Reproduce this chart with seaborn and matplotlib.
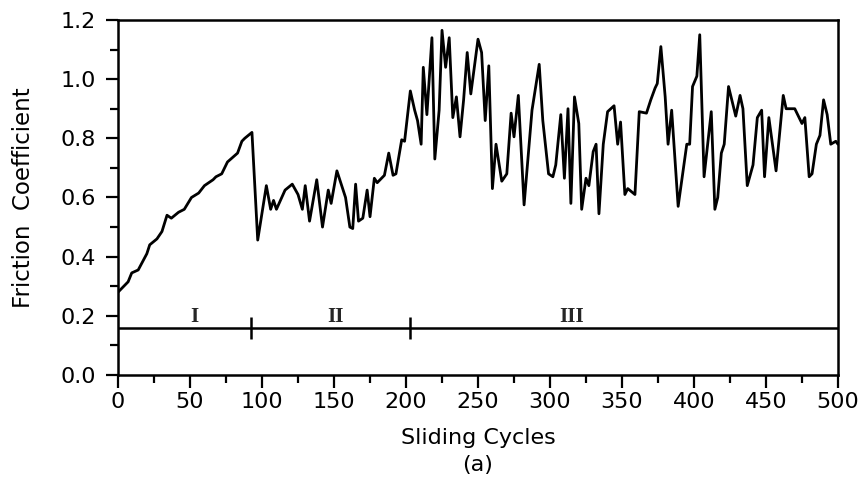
import matplotlib
matplotlib.use("Agg")
import matplotlib.pyplot as plt
import seaborn as sns
import pandas as pd
from matplotlib.ticker import MultipleLocator

cycles = [0, 7, 9.5, 14, 20, 22, 27, 30.5, 34, 37, 42, 46, 51, 56, 60, 66, 68, 72, 76, 83, 86, 88, 93,
          97, 103, 106, 108, 110, 116, 121, 125, 128, 130, 133, 138, 142, 146, 148, 152, 158, 161, 163,
          165, 167, 170, 173, 175, 178, 180, 185, 188, 191, 193, 197, 199, 203, 206, 208, 210.5, 212,
          214.5, 218, 220, 223, 225, 227.5, 230, 232.5, 235, 237.5, 240, 242.5, 245, 250, 252.5, 255,
          257.5, 260, 262.5, 266.5, 270, 273, 275, 278, 282, 287.5, 292.5, 295, 299, 302, 304, 307.5,
          310, 312.5, 314.5, 317, 320, 322, 325, 327, 330, 332, 334, 337, 340, 344.5, 347, 349, 352,
          354, 359, 362, 367, 370, 373, 374.5, 377, 380, 382, 384.5, 389, 395, 397, 399, 402, 404, 407,
          412, 414.5, 416.5, 419, 421, 424, 429, 432, 434, 437, 441, 444, 447, 449, 452, 457, 462, 464,
          470, 475, 477, 480, 482, 485, 487.5, 490, 492.5, 495, 498.5, 500]
friction = [0.28, 0.315, 0.345, 0.355, 0.41, 0.44, 0.46, 0.485, 0.54, 0.53, 0.55, 0.56, 0.60, 0.615,
            0.64, 0.66, 0.67, 0.68, 0.72, 0.75, 0.79, 0.80, 0.82,
            0.456, 0.64, 0.56, 0.59, 0.56, 0.625, 0.645, 0.61, 0.56, 0.64, 0.52, 0.66, 0.50, 0.625,
            0.58, 0.69, 0.60, 0.50, 0.495, 0.645, 0.52, 0.53, 0.625, 0.535, 0.665, 0.65, 0.675, 0.75,
            0.675, 0.68, 0.795, 0.79, 0.96, 0.895, 0.86, 0.78, 1.04, 0.88, 1.14, 0.73, 0.895, 1.165,
            1.04, 1.14, 0.87, 0.94, 0.805, 0.93, 1.09, 0.95, 1.135, 1.09, 0.86, 1.045, 0.63, 0.78,
            0.655, 0.68, 0.885, 0.805, 0.945, 0.575, 0.895, 1.05, 0.86, 0.68, 0.67, 0.71, 0.88, 0.665,
            0.90, 0.58, 0.94, 0.85, 0.56, 0.665, 0.64, 0.755, 0.78, 0.545, 0.78, 0.89, 0.91, 0.78,
            0.855, 0.61, 0.63, 0.61, 0.89, 0.885, 0.93, 0.97, 0.985, 1.11, 0.94, 0.78, 0.895, 0.57,
            0.78, 0.78, 0.975, 1.01, 1.15, 0.67, 0.89, 0.56, 0.60, 0.75, 0.78, 0.975, 0.875, 0.945,
            0.90, 0.64, 0.71, 0.87, 0.895, 0.67, 0.87, 0.69, 0.945, 0.90, 0.90, 0.85, 0.87, 0.67, 0.68,
            0.78, 0.81, 0.93, 0.88, 0.78, 0.79, 0.78]

phase_level = 0.16
phase_bounds = [92, 203]
phase_names = ["I", "II", "III"]
phase_name_x = [53, 151, 315]
phase_name_y = 0.195

sns.set_theme(style="ticks")
plt.rcParams['font.family'] = ['DejaVu Sans']

fig = plt.figure(figsize=(8.68, 4.87), dpi=100)
ax = fig.add_axes([0.136, 0.23, 0.8294, 0.729])

df = pd.DataFrame({"Sliding Cycles": cycles, "Friction Coefficient": friction})
sns.lineplot(data=df, x="Sliding Cycles", y="Friction Coefficient", color="black",
             linewidth=2.0, sort=False, ax=ax)

ax.hlines(phase_level, 0, 500, color="black", linewidth=1.8)
ax.vlines(phase_bounds, 0.12, 0.195, color="black", linewidth=1.8)
for name, xp in zip(phase_names, phase_name_x):
    ax.text(xp, phase_name_y, name, ha="center", va="center", fontsize=15,
            fontweight="bold", family=["Liberation Serif", "DejaVu Serif"])

ax.set_xlim(0, 500)
ax.set_ylim(0, 1.2)
ax.xaxis.set_major_locator(MultipleLocator(50))
ax.xaxis.set_minor_locator(MultipleLocator(25))
ax.yaxis.set_major_locator(MultipleLocator(0.2))
ax.yaxis.set_minor_locator(MultipleLocator(0.1))
ax.yaxis.set_major_formatter(matplotlib.ticker.FormatStrFormatter("%.1f"))
ax.tick_params(which="major", direction="out", length=9, width=1.6, labelsize=16,
               colors="black", pad=3)
ax.tick_params(axis="y", which="major", pad=7)
ax.tick_params(which="minor", direction="out", length=6, width=1.6, colors="black")
for s in ax.spines.values():
    s.set_visible(True)
    s.set_linewidth(1.8)
    s.set_color("black")

ax.set_xlabel("Sliding Cycles", fontsize=16, labelpad=12, color="black")
ax.set_ylabel("Friction  Coefficient", fontsize=16.5, labelpad=18, color="black")
fig.text(0.5505, 0.045, "(a)", ha="center", va="center", fontsize=16, color="black")

fig.savefig("out.png", dpi=100, facecolor="white")
